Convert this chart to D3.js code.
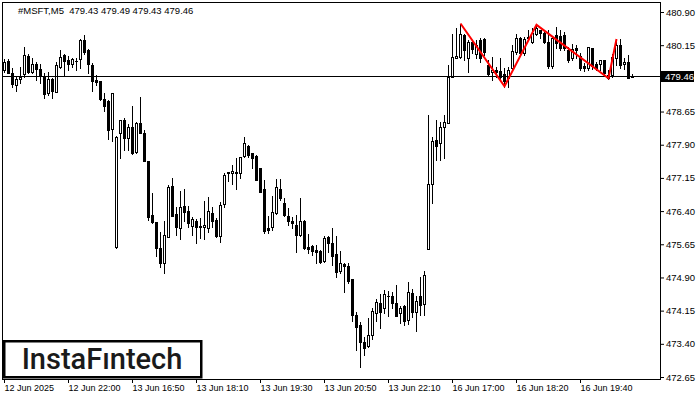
<!DOCTYPE html>
<html><head><meta charset="utf-8">
<script src="https://cdn.jsdelivr.net/npm/d3@7"></script>
<style>html,body{margin:0;padding:0;background:#fff;} svg{display:block;}</style>
</head><body>
<svg id="chart" width="700" height="400"></svg>
<script>
const symbolTitle = "#MSFT,M5  479.43 479.49 479.43 479.46";
const brand = "InstaFıntech";

const openP = [
479.59,479.79,479.53,479.25,479.38,479.49,479.91,479.55,479.72,479.61,
479.46,479.06,479.38,479.10,479.65,479.93,479.82,479.72,479.79,479.83,
480.27,480.03,479.70,479.36,479.35,478.93,478.89,478.25,475.58,478.17,
478.47,478.05,478.29,477.74,478.40,478.16,477.53,476.31,476.16,475.56,
475.23,475.82,476.97,476.33,476.01,476.52,476.40,476.07,476.18,476.05,
476.05,476.01,476.36,476.20,475.84,476.55,477.27,477.25,477.28,477.27,
477.65,477.86,477.71,477.65,477.37,476.91,476.01,476.03,476.35,476.91,
476.58,476.29,476.18,476.09,475.86,476.18,475.58,475.61,475.52,475.50,
475.27,475.82,475.67,475.43,475.05,475.20,475.16,474.87,474.05,473.83,
473.43,473.34,473.61,474.09,474.33,474.20,474.47,474.47,474.32,474.09,
474.25,473.94,474.54,474.13,474.48,474.29,475.54,477.01,478.01,477.93,
478.29,478.38,479.44,479.87,479.89,480.38,479.85,480.23,479.95,480.27,
480.29,479.70,479.54,479.59,479.57,479.49,479.40,479.63,479.99,480.31,
479.97,480.31,480.23,480.40,480.49,480.42,480.23,479.69,480.38,480.36,
480.38,480.04,479.85,480.08,479.91,479.68,479.63,480.08,479.72,479.72,
479.82,479.40,479.48,479.85,480.15,479.72,479.76,479.43];

const highP = [
479.84,479.83,479.63,479.44,479.65,480.12,479.95,479.85,479.76,479.72,
479.51,479.55,479.40,479.78,480.04,479.95,479.91,479.85,479.85,480.28,
480.38,480.06,479.74,479.48,479.35,479.06,478.91,479.06,478.10,478.47,
478.50,478.37,478.78,478.42,478.99,478.23,477.53,476.82,476.16,475.93,
476.18,476.99,477.14,476.49,476.85,476.91,476.52,476.27,476.21,476.24,
476.63,476.71,476.49,476.24,476.61,477.27,477.28,477.44,477.59,477.63,
478.08,477.89,477.72,477.67,477.37,477.10,476.29,476.73,477.12,477.12,
476.69,476.46,476.26,476.31,476.69,476.20,475.88,475.63,475.63,475.52,
475.84,475.84,476.01,475.84,475.50,475.22,475.22,474.87,474.13,473.90,
473.55,473.98,474.20,474.41,474.53,474.62,474.60,474.58,474.73,474.25,
474.28,474.80,474.65,474.47,474.90,475.05,478.57,478.08,478.46,478.42,
478.57,479.70,480.40,480.53,480.64,480.40,480.27,480.27,480.27,480.31,
480.31,479.82,479.89,479.66,479.85,479.63,479.66,480.15,480.40,480.34,
480.34,480.49,480.53,480.61,480.49,480.45,480.49,480.36,480.55,480.49,
480.45,480.12,480.17,480.15,479.97,479.74,480.12,480.09,479.78,479.82,
479.82,479.59,479.94,480.27,480.29,479.87,479.93,479.49];

const lowP = [
479.54,479.51,479.20,479.12,479.30,479.44,479.53,479.53,479.36,479.30,
478.96,479.02,478.96,479.10,479.63,479.45,479.60,479.66,479.60,479.63,
479.95,479.53,479.12,479.25,478.91,478.67,478.02,477.99,475.57,477.60,
477.77,477.77,477.69,477.72,478.16,477.54,476.20,476.14,475.38,475.14,
475.01,475.81,476.30,475.86,475.76,476.18,476.05,475.87,475.67,475.79,
475.76,475.93,476.05,475.81,475.71,476.49,477.09,477.01,476.91,477.14,
477.63,477.63,477.37,477.10,476.84,475.91,475.91,475.97,476.33,476.65,
476.29,476.09,476.01,475.48,475.84,475.54,475.45,475.41,475.23,475.22,
475.26,475.48,475.18,474.90,475.01,474.56,474.78,473.92,473.26,472.88,
473.15,473.32,473.52,473.92,473.75,474.09,474.03,474.22,474.03,473.88,
473.82,473.85,474.01,473.70,474.05,474.05,475.54,476.58,477.55,477.55,
477.59,478.38,479.44,479.85,479.85,479.82,479.55,479.97,479.85,479.78,
479.93,479.48,479.36,479.44,479.36,479.21,479.21,479.59,479.94,479.94,
479.93,480.27,480.19,480.38,480.31,480.19,479.64,479.63,480.08,480.04,
480.04,479.78,479.82,479.85,479.59,479.57,479.60,479.61,479.59,479.59,
479.48,479.39,479.44,479.70,479.63,479.61,479.40,479.43];

const closeP = [
479.77,479.53,479.27,479.38,479.44,479.93,479.55,479.72,479.61,479.45,
479.04,479.38,479.12,479.70,479.89,479.80,479.72,479.83,479.80,480.27,
480.00,479.72,479.35,479.32,478.93,478.78,478.23,479.06,478.07,478.46,
478.05,478.31,477.71,478.38,478.17,477.54,476.27,476.16,475.56,475.22,
475.86,476.94,476.30,476.05,476.49,476.39,476.12,476.21,476.05,476.06,
476.09,476.40,476.18,475.84,476.54,477.22,477.28,477.31,477.25,477.63,
477.93,477.67,477.59,477.10,476.84,475.96,475.97,476.39,476.94,476.69,
476.31,476.18,476.12,475.86,476.18,475.56,475.54,475.50,475.48,475.24,
475.79,475.67,475.39,475.03,475.22,475.16,474.83,474.05,473.79,473.43,
473.30,473.60,474.14,474.34,474.13,474.53,474.48,474.33,474.04,474.22,
473.92,474.57,474.13,474.37,474.28,474.96,477.01,477.98,477.88,478.29,
478.41,479.44,479.89,479.91,480.40,480.04,480.23,480.06,480.15,479.85,
479.99,479.49,479.59,479.54,479.44,479.34,479.59,480.02,480.31,479.97,
480.29,480.34,480.42,480.53,480.42,480.23,479.69,480.31,480.19,480.08,
480.08,479.82,480.06,480.03,479.63,479.63,480.10,479.69,479.64,479.82,
479.51,479.48,479.89,480.15,479.70,479.78,479.40,479.46];

const xTickIndex = [0,16,32,48,64,80,96,112,128,144];
const xTickLabels = ["12 Jun 2025","12 Jun 22:00","13 Jun 16:50","13 Jun 18:10","13 Jun 19:30",
  "13 Jun 20:50","13 Jun 22:10","16 Jun 17:00","16 Jun 18:20","16 Jun 19:40"];
const yTickValues = [480.90,480.15,478.65,477.90,477.15,476.40,475.65,474.90,474.15,473.40,472.65];
const lastPrice = 479.46;
const patternIndex = [114,125,133,151,153];
const patternPrice = [480.64,479.22,480.61,479.40,480.29];

const svg = d3.select("#chart");
const n = openP.length;
const x = d3.scaleLinear().domain([0, 157]).range([4, 632]);
const y = d3.scaleLinear().domain([472.65, 480.90]).range([377, 12]);
const yp = v => Math.round(y(v));
const FONT = "'Liberation Sans', Arial, sans-serif";

svg.append("rect").attr("width",700).attr("height",400).attr("fill","#fff");

// plot frame
svg.append("rect").attr("x",2.5).attr("y",2.5).attr("width",658).attr("height",377)
  .attr("fill","none").attr("stroke","#000").attr("stroke-width",1);

// candles
const cg = svg.append("g");
d3.range(n).forEach(i => {
  const o = openP[i], c = closeP[i];
  const hi = Math.max(highP[i], o, c), lo = Math.min(lowP[i], o, c);
  const cx = Math.round(x(i));
  cg.append("line").attr("x1",cx+0.5).attr("x2",cx+0.5)
    .attr("y1",yp(hi)).attr("y2",yp(lo)+1).attr("stroke","#000").attr("stroke-width",1);
  const top = yp(Math.max(o,c)), bot = yp(Math.min(o,c));
  if (bot - top < 1) {
    cg.append("line").attr("x1",cx-1).attr("x2",cx+2).attr("y1",top+0.5).attr("y2",top+0.5)
      .attr("stroke","#000").attr("stroke-width",1);
  } else {
    cg.append("rect").attr("x",cx-0.5).attr("y",top+0.5).attr("width",2).attr("height",bot-top)
      .attr("fill", c >= o ? "#fff" : "#000").attr("stroke","#000").attr("stroke-width",1);
  }
});

// bid line
const ly = yp(lastPrice) + 0.5;
svg.append("line").attr("x1",3).attr("x2",660).attr("y1",ly).attr("y2",ly)
  .attr("stroke","#000").attr("stroke-width",1);

// pattern
svg.append("path")
  .datum(d3.range(patternIndex.length))
  .attr("d", d3.line().x(k => x(patternIndex[k]) + 0.5).y(k => y(patternPrice[k])))
  .attr("fill","none").attr("stroke","#ff0000").attr("stroke-width",2);

// y axis
const ya = svg.append("g").attr("transform","translate(660,0)")
  .call(d3.axisRight(y).tickValues(yTickValues).tickSize(4).tickPadding(2).tickFormat(d3.format(".2f")));
ya.select(".domain").remove();
ya.selectAll("text").attr("font-family",FONT).attr("font-size","9.5px").attr("fill","#000");
ya.selectAll("line").attr("stroke","#000");

// last price box
svg.append("rect").attr("x",661).attr("y",ly-5.5).attr("width",33).attr("height",11).attr("fill","#000");
svg.append("text").attr("x",665).attr("y",ly).attr("dy","0.35em").attr("fill","#fff")
  .attr("font-family",FONT).attr("font-size","9.5px").text(d3.format(".2f")(lastPrice));

// x axis
const xa = svg.append("g").attr("transform","translate(0,379)")
  .call(d3.axisBottom(x).tickValues(xTickIndex).tickSize(4).tickPadding(2)
    .tickFormat((d,i) => xTickLabels[i]));
xa.select(".domain").remove();
xa.selectAll("text").attr("text-anchor","start").attr("font-family",FONT)
  .attr("font-size","9px").attr("fill","#000");
xa.selectAll("line").attr("stroke","#000");

// title
svg.append("text").attr("x",18).attr("y",14).attr("font-family",FONT).attr("font-size","9.5px")
  .style("white-space","pre").attr("fill","#000").text(symbolTitle);

// logo
svg.append("rect").attr("x",4.25).attr("y",341.25).attr("width",197).attr("height",36)
  .attr("fill","#fff").attr("stroke","#000").attr("stroke-width",2.5);
svg.append("text").attr("x",102).attr("y",369).attr("text-anchor","middle")
  .attr("font-family","Roboto, 'Open Sans', sans-serif").attr("font-size","29px")
  .attr("font-weight","500").attr("fill","#1a1a1a").text(brand);
</script>
</body></html>
